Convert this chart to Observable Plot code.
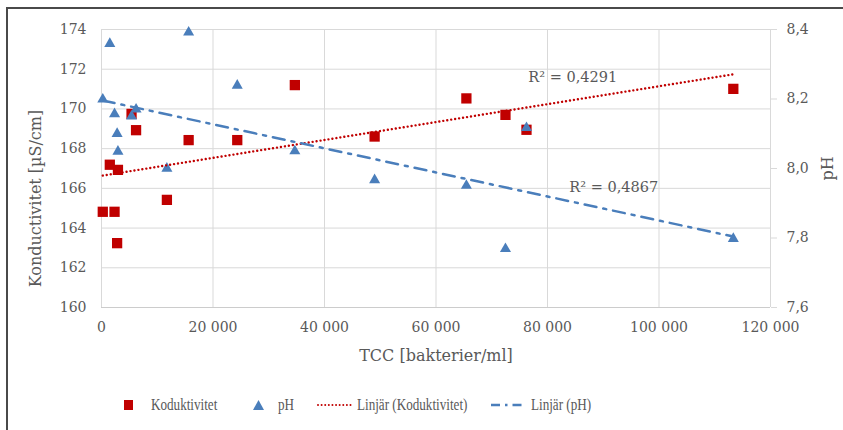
<!DOCTYPE html>
<html>
<head>
<meta charset="utf-8">
<script src="https://cdn.jsdelivr.net/npm/d3@7"></script>
<script src="https://cdn.jsdelivr.net/npm/@observablehq/plot@0.6"></script>
<style>
  html, body { margin: 0; padding: 0; background: #fff; }
  #wrap { position: relative; width: 843px; height: 430px; overflow: hidden; background: #fff; }
  #frame { position: absolute; left: 6px; top: 7px; width: 900px; height: 500px;
           border-left: 2px solid #4a4a4a; border-top: 2px solid #4a4a4a; box-sizing: border-box; pointer-events: none; }
  #chart { position: absolute; left: 0; top: 0; }
  #legend { position: absolute; left: 0; top: 370px; width: 843px; height: 60px;
            font-family: "Liberation Serif", serif; font-size: 16px; color: #595959; }
  .item { position: absolute; top: 26px; height: 18px; display: flex; align-items: center; white-space: nowrap; }
  .item svg { display: block; }
  .item .lbl { display: inline-block; transform: scaleX(0.82); transform-origin: left center; }
</style>
</head>
<body>
<div id="wrap">
  <div id="chart"></div>
  <div id="legend"></div>
  <div id="frame"></div>
</div>
<script>
// Samples: total cell count, conductivity and pH
const tcc  = [230, 1490, 2340, 2800, 2950, 5390, 6200, 11730, 15630, 24350, 34680, 48990, 65450, 72460, 76230, 113330];
const cond = [164.82, 167.19, 164.82, 163.24, 166.93, 169.75, 168.93, 165.42, 168.43, 168.43, 171.20, 168.61, 170.53, 169.70, 168.95, 171.01];
const ph   = [8.199, 8.359, 8.157, 8.100, 8.049, 8.150, 8.170, 8.000, 8.392, 8.239, 8.050, 7.967, 7.951, 7.769, 8.117, 7.798];

const xTicks  = [0, 20000, 40000, 60000, 80000, 100000, 120000];
const yTicks  = [160, 162, 164, 166, 168, 170, 172, 174];
const phTicks = [7.6, 7.8, 8.0, 8.2, 8.4];
const r2Cond = "R\u00b2 = 0,4291";
const r2Ph   = "R\u00b2 = 0,4867";

const COND_COLOR = "#c00000";
const PH_COLOR = "#4a7ebb";
const TEXT = "#595959";
const GRID = "#d9d9d9";

// pH is read on the secondary axis: map [7.6, 8.4] onto the primary [160, 174]
const toY = p => 160 + (p - 7.6) / 0.8 * 14;
const fromY = v => 7.6 + (v - 160) / 14 * 0.8;

const rows = tcc.map((t, i) => ({tcc: t, cond: cond[i], ph: ph[i], phY: toY(ph[i])}));

// Least-squares trend lines over the sampled range
function fit(xs, ys) {
  const mx = d3.mean(xs), my = d3.mean(ys);
  const sxy = d3.sum(xs, (x, i) => (x - mx) * (ys[i] - my));
  const sxx = d3.sum(xs, x => (x - mx) ** 2);
  const b = sxy / sxx, a = my - b * mx;
  const [x0, x1] = d3.extent(xs);
  return [{tcc: x0, y: a + b * x0}, {tcc: x1, y: a + b * x1}];
}
const condFit = fit(tcc, cond);
const phFit = fit(tcc, rows.map(d => d.phY));

const fmtX = d => d3.format(",")(d).replace(/,/g, "\u00a0");
const fmtPh = v => fromY(v).toFixed(1).replace(".", ",");

const chart = Plot.plot({
  width: 843,
  height: 370,
  marginLeft: 101,
  marginRight: 73,
  marginTop: 29,
  marginBottom: 63,
  x: {domain: [0, 120000]},
  y: {domain: [160, 174]},
  style: {fontFamily: "'DejaVu Serif', serif", fontSize: "14px", color: TEXT, background: "transparent", overflow: "visible"},
  marks: [
    Plot.gridX(xTicks, {stroke: GRID, strokeOpacity: 1}),
    Plot.gridY(yTicks, {stroke: GRID, strokeOpacity: 1}),
    Plot.ruleY([160], {stroke: "#cccccc"}),
    Plot.axisX({ticks: xTicks, tickSize: 0, tickPadding: 15, tickFormat: fmtX, label: null}),
    Plot.axisY({ticks: yTicks, tickSize: 0, tickPadding: 15, label: null}),
    Plot.axisY({anchor: "right", ticks: phTicks.map(toY), tickSize: 6, tickPadding: 10,
                tickFormat: fmtPh, stroke: GRID, label: null}),
    Plot.text(["TCC [bakterier/ml]"], {frameAnchor: "bottom", dy: 48, lineAnchor: "middle", fontSize: 16, fill: TEXT}),
    Plot.text(["Konductivitet [\u00b5S/cm]"], {frameAnchor: "left", dx: -66, dy: 30, rotate: -90,
                textAnchor: "middle", lineAnchor: "middle", fontSize: 16, fill: TEXT}),
    Plot.text(["pH"], {frameAnchor: "right", dx: 57, rotate: -90,
                textAnchor: "middle", lineAnchor: "middle", fontSize: 16, fill: TEXT}),
    Plot.dot(rows, {x: "tcc", y: "cond", symbol: "square", r: 5.8, fill: COND_COLOR}),
    Plot.dot(rows, {x: "tcc", y: "phY", symbol: "triangle", r: 4.1, fill: PH_COLOR}),
    Plot.line(condFit, {x: "tcc", y: "y", stroke: COND_COLOR, strokeWidth: 2.4, strokeLinecap: "round", strokeDasharray: "0.01,4"}),
    Plot.line(phFit, {x: "tcc", y: "y", stroke: PH_COLOR, strokeWidth: 2.5, strokeDasharray: "12,7,3,7"}),
    Plot.text([condFit[1]], {x: "tcc", y: "y", text: () => r2Cond, textAnchor: "start", dx: -205, dy: 3, fontSize: 14.5, fill: TEXT}),
    Plot.text([phFit[1]], {x: "tcc", y: "y", text: () => r2Ph, textAnchor: "start", dx: -164, dy: -49, fontSize: 14.5, fill: TEXT})
  ]
});
document.getElementById("chart").appendChild(chart);

// Legend below the chart
const legendItems = [
  {label: "Koduktivitet", left: 123, swatch: `<svg width="28" height="14"><rect x="1" y="2" width="9" height="10" fill="${COND_COLOR}"/></svg>`},
  {label: "pH", left: 252, swatch: `<svg width="26" height="14"><path d="M1,12 L6.5,2 L12,12 Z" fill="${PH_COLOR}"/></svg>`},
  {label: "Linjär (Koduktivitet)", left: 317, swatch: `<svg width="40" height="14"><line x1="1" y1="7" x2="34" y2="7" stroke="${COND_COLOR}" stroke-width="2" stroke-linecap="round" stroke-dasharray="0.01,3.6"/></svg>`},
  {label: "Linjär (pH)", left: 491, swatch: `<svg width="40" height="14"><line x1="0" y1="7" x2="31" y2="7" stroke="${PH_COLOR}" stroke-width="2.5" stroke-dasharray="9,5,2.5,5"/></svg>`}
];
const legend = d3.select("#legend");
for (const it of legendItems) {
  const el = legend.append("div").attr("class", "item").style("left", it.left + "px");
  el.append("span").html(it.swatch);
  el.append("span").attr("class", "lbl").text(it.label);
}
</script>
</body>
</html>
